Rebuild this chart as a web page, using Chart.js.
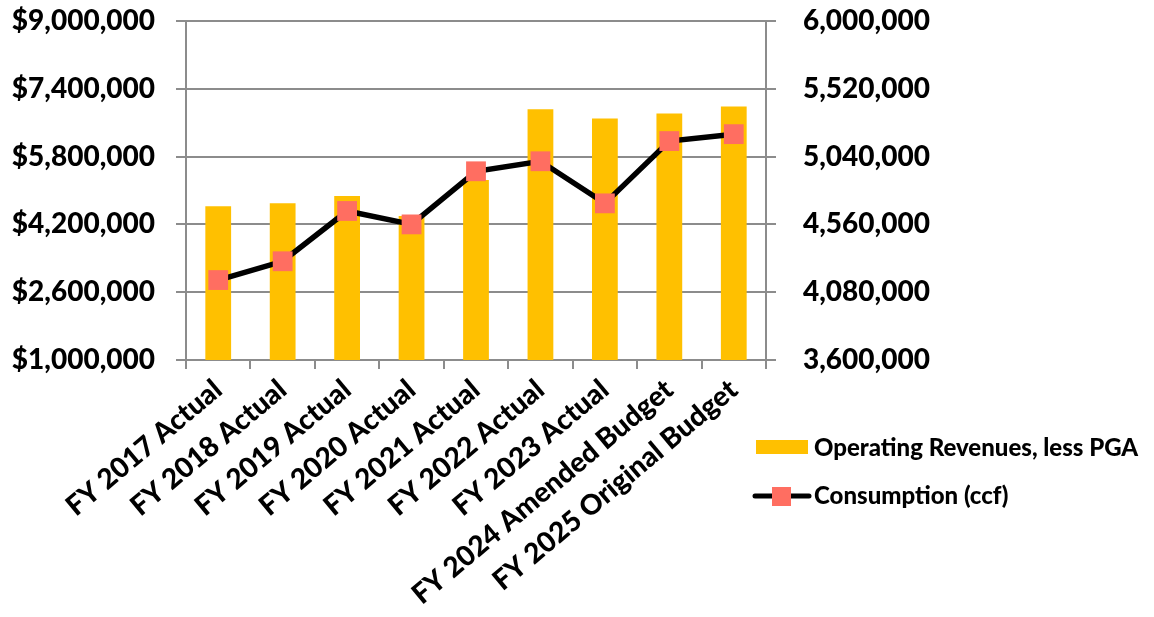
<!DOCTYPE html>
<html>
<head>
<meta charset="utf-8">
<title>Revenues and Consumption</title>
<script src="https://cdn.jsdelivr.net/npm/chart.js@4"></script>
<style>
  html, body { margin: 0; padding: 0; background: #fff; }
  #wrap { width: 1154px; height: 617px; position: relative; }
</style>
</head>
<body>
<div id="wrap"><canvas id="combo-chart"></canvas></div>
<script>
// fiscal years on the x axis
var categories = ["FY 2017 Actual", "FY 2018 Actual", "FY 2019 Actual", "FY 2020 Actual",
  "FY 2021 Actual", "FY 2022 Actual", "FY 2023 Actual", "FY 2024 Amended Budget",
  "FY 2025 Original Budget"];

// dollars, left axis
var revenues = [4630000, 4700000, 4870000, 4400000, 5250000, 6920000, 6700000, 6820000, 6980000];
// ccf, right axis
var consumption = [4166000, 4299000, 4655000, 4560000, 4936000, 5007000, 4709000, 5150000, 5199000];

var leftTicks = [1000000, 2600000, 4200000, 5800000, 7400000, 9000000];
var rightTicks = [3600000, 4080000, 4560000, 5040000, 5520000, 6000000];

var TICK_FONT = { family: "Lato", size: 28, weight: "900" };
var CAT_FONT = { family: "Lato", size: 28, weight: "900" };
var GRID = "#8c8c8c";

// legend sits under the right axis labels, so it is painted by hand
var sideLegend = {
  id: "sideLegend",
  afterDraw: function(chart) {
    var ctx = chart.ctx;
    var bars = chart.data.datasets[0];
    var line = chart.data.datasets[1];
    ctx.save();
    ctx.font = "900 24px Lato";
    ctx.textBaseline = "middle";
    ctx.textAlign = "left";

    ctx.fillStyle = bars.backgroundColor;
    ctx.fillRect(756, 440, 52, 14);
    ctx.fillStyle = "#000";
    ctx.fillText(bars.label, 814, 448);

    ctx.strokeStyle = line.borderColor;
    ctx.lineWidth = 5;
    ctx.lineCap = "round";
    ctx.beginPath();
    ctx.moveTo(755, 496);
    ctx.lineTo(809, 496);
    ctx.stroke();
    ctx.fillStyle = line.pointBackgroundColor;
    ctx.fillRect(772, 487, 19, 19);
    ctx.fillStyle = "#000";
    ctx.fillText(line.label, 814, 496);
    ctx.restore();
  }
};

// keep the value axes from reserving room for half a label above and below
function fixValueAxis(width) {
  return function(scale) {
    scale.width = width;
    scale.paddingTop = 0;
    scale.paddingBottom = 0;
  };
}

new Chart(document.getElementById("combo-chart"), {
  type: "bar",
  data: {
    labels: categories,
    datasets: [
      {
        type: "bar",
        label: "Operating Revenues, less PGA",
        data: revenues,
        backgroundColor: "#FFC000",
        yAxisID: "y",
        barPercentage: 0.4,
        categoryPercentage: 1.0,
        order: 2
      },
      {
        type: "line",
        label: "Consumption (ccf)",
        data: consumption,
        yAxisID: "y1",
        borderColor: "#000000",
        borderWidth: 5.5,
        pointStyle: "rect",
        pointRadius: 14,
        pointBackgroundColor: "#FF6E61",
        pointBorderColor: "#FF6E61",
        pointBorderWidth: 0,
        tension: 0,
        order: 1
      }
    ]
  },
  options: {
    responsive: true,
    maintainAspectRatio: false,
    animation: false,
    layout: { padding: { top: 21, left: 0, right: 0, bottom: 0 } },
    plugins: {
      legend: { display: false },
      tooltip: { enabled: false }
    },
    scales: {
      x: {
        grid: { drawOnChartArea: false, color: GRID, lineWidth: 2, tickLength: 9 },
        border: { color: GRID, width: 2 },
        ticks: {
          color: "#000", font: CAT_FONT, autoSkip: false,
          minRotation: 40, maxRotation: 40, padding: 4
        },
        afterFit: function(scale) {
          scale.height = 257;
          scale.paddingLeft = 0;
          scale.paddingRight = 0;
        }
      },
      y: {
        position: "left",
        min: leftTicks[0],
        max: leftTicks[leftTicks.length - 1],
        grid: { color: GRID, lineWidth: 2, tickLength: 10 },
        border: { color: GRID, width: 2 },
        ticks: {
          stepSize: leftTicks[1] - leftTicks[0],
          color: "#000", font: TICK_FONT, padding: 21,
          callback: function(v) { return "$" + v.toLocaleString("en-US"); }
        },
        afterFit: fixValueAxis(186)
      },
      y1: {
        position: "right",
        min: rightTicks[0],
        max: rightTicks[rightTicks.length - 1],
        grid: { drawOnChartArea: false, color: GRID, lineWidth: 2, tickLength: 10 },
        border: { color: GRID, width: 2 },
        ticks: {
          stepSize: rightTicks[1] - rightTicks[0],
          color: "#000", font: TICK_FONT, padding: 27,
          callback: function(v) { return v.toLocaleString("en-US"); }
        },
        afterFit: fixValueAxis(388)
      }
    }
  },
  plugins: [sideLegend]
});
</script>
</body>
</html>
